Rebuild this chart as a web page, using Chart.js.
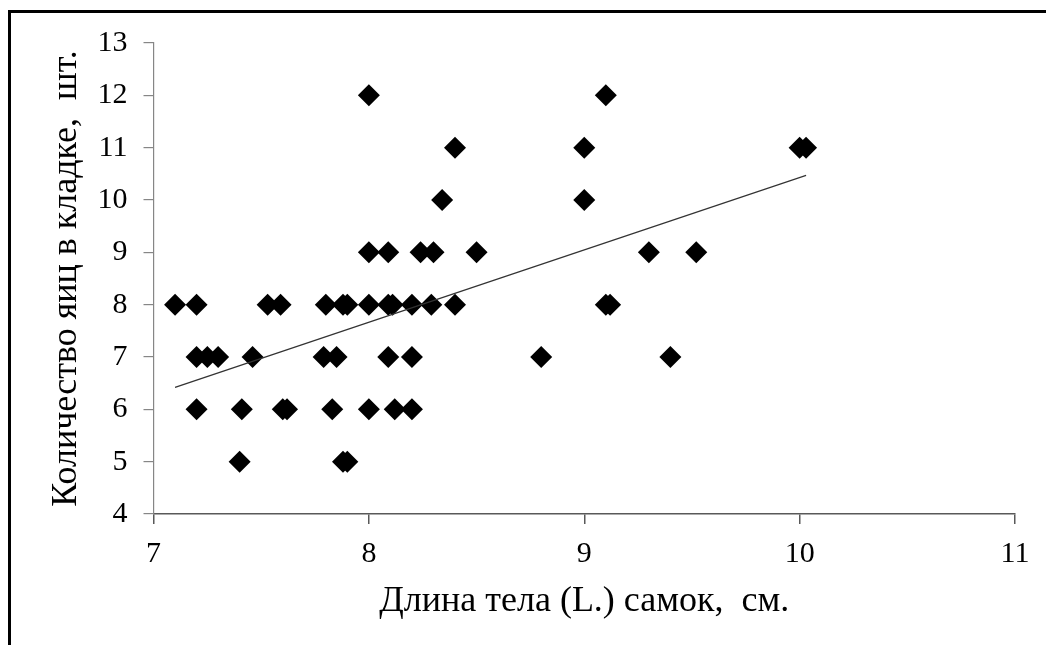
<!DOCTYPE html>
<html><head><meta charset="utf-8">
<script src="https://cdn.jsdelivr.net/npm/chart.js@4/dist/chart.umd.min.js"></script>
<style>html,body{margin:0;padding:0;background:#fff;} canvas{display:block}</style>
</head><body>
<canvas id="c" width="1046" height="645"></canvas>
<script>
// Body length of females (cm) and clutch size (eggs)
const lengthCm = [
  7.10, 7.20, 7.53, 7.59, 7.80, 7.88, 7.90, 8.00, 8.09, 8.11, 8.20, 8.29, 8.40, 9.10, 9.12,
  7.20, 7.25, 7.30, 7.46, 7.79, 7.85, 8.09, 8.20, 8.80, 9.40,
  7.20, 7.41, 7.60, 7.62, 7.83, 8.00, 8.12, 8.20,
  7.40, 7.88, 7.90,
  8.00, 9.10,
  8.40, 9.00, 10.00, 10.03,
  8.34, 9.00,
  8.00, 8.09, 8.24, 8.30, 8.50, 9.30, 9.52
];
const eggCount = [
  8, 8, 8, 8, 8, 8, 8, 8, 8, 8, 8, 8, 8, 8, 8,
  7, 7, 7, 7, 7, 7, 7, 7, 7, 7,
  6, 6, 6, 6, 6, 6, 6, 6,
  5, 5, 5,
  12, 12,
  11, 11, 11, 11,
  10, 10,
  9, 9, 9, 9, 9, 9, 9
];
const trendX = [7.10, 10.03];
const trendY = [6.42, 10.47];
const xTicks = [7, 8, 9, 10, 11];
const yTicks = [4, 5, 6, 7, 8, 9, 10, 11, 12, 13];
const xTitle = 'Длина тела (L.) самок,  см.';
const yTitle = 'Количество яиц в кладке,  шт.';

const FONT = "'Liberation Serif', 'Times New Roman', serif";

const framePlugin = {
  id: 'frame',
  beforeDraw(chart) {
    const ctx = chart.ctx;
    ctx.save();
    ctx.fillStyle = '#fff';
    ctx.fillRect(0, 0, chart.width, chart.height);
    ctx.strokeStyle = '#000';
    ctx.lineWidth = 3;
    ctx.beginPath();
    ctx.moveTo(9.5, chart.height);
    ctx.lineTo(9.5, 11.5);
    ctx.lineTo(chart.width, 11.5);
    ctx.stroke();
    ctx.restore();
  }
};

new Chart(document.getElementById('c'), {
  type: 'scatter',
  data: {
    datasets: [
      {
        type: 'line',
        data: trendX.map((x, i) => ({x, y: trendY[i]})),
        borderColor: '#333',
        borderWidth: 1.2,
        pointRadius: 0,
        fill: false
      },
      {
        data: lengthCm.map((x, i) => ({x, y: eggCount[i]})),
        pointStyle: 'rectRot',
        pointRadius: 11,
        pointHoverRadius: 11,
        backgroundColor: '#000',
        borderColor: '#000',
        borderWidth: 0
      }
    ]
  },
  options: {
    responsive: false,
    devicePixelRatio: 1,
    animation: false,
    layout: { padding: { left: 20, right: 31, top: 43, bottom: 0 } },
    plugins: { legend: { display: false }, tooltip: { enabled: false } },
    scales: {
      x: {
        type: 'linear',
        min: 7, max: 11,
        afterBuildTicks: s => { s.ticks = xTicks.map(v => ({value: v})); },
        afterFit: s => { s.height = 131; },
        border: { display: true, color: '#595959', width: 1.5 },
        grid: { drawOnChartArea: false, drawTicks: true, tickLength: 10, color: '#595959', lineWidth: 1.5 },
        ticks: { color: '#000', font: { family: FONT, size: 30 }, padding: 12, maxRotation: 0 },
        title: { display: true, text: xTitle, color: '#000', font: { family: FONT, size: 36 }, padding: { top: 0, bottom: 22 } }
      },
      y: {
        type: 'linear',
        min: 4, max: 13,
        afterBuildTicks: s => { s.ticks = yTicks.map(v => ({value: v})); },
        afterFit: s => { s.width = 133.5; },
        border: { display: true, color: '#868686', width: 1.2 },
        grid: { drawOnChartArea: false, drawTicks: true, tickLength: 10, color: '#868686', lineWidth: 1.2 },
        ticks: { color: '#000', font: { family: FONT, size: 30 }, padding: 16 },
        title: { display: true, text: yTitle, color: '#000', font: { family: FONT, size: 36 }, padding: { top: 25, bottom: 0 } }
      }
    }
  },
  plugins: [framePlugin]
});
</script>
</body></html>
